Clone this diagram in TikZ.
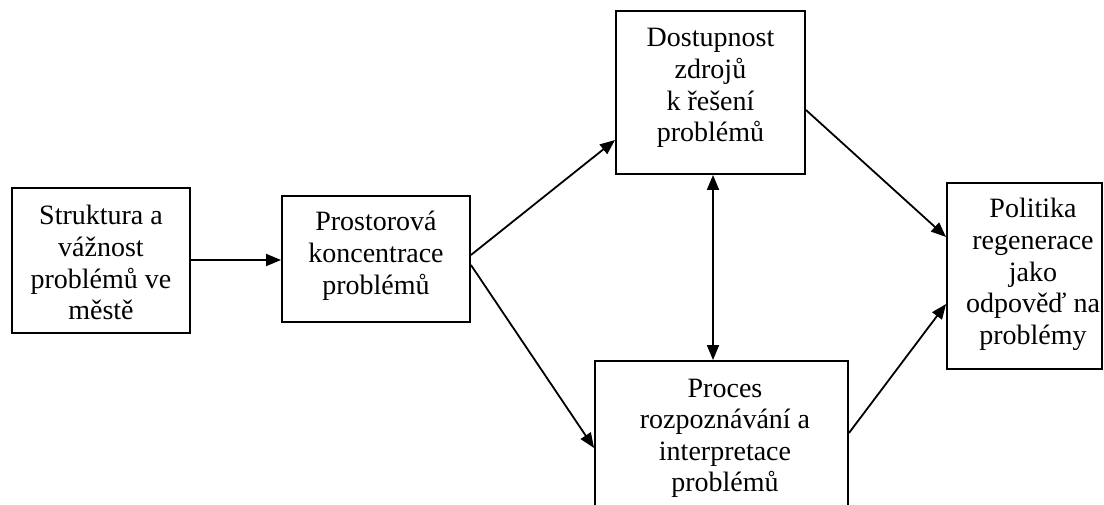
\documentclass[tikz,border=0pt]{standalone}
\usepackage{fontspec}
\setmainfont{Liberation Serif}
\usetikzlibrary{arrows.meta}
\begin{document}
\begin{tikzpicture}[x=1pt,y=-1pt,
  box/.style={draw, line width=1.9pt, rectangle, inner sep=0pt},
  lbl/.style={inner sep=0pt, anchor=base, font=\fontsize{28}{31.6}\selectfont},
  conn/.style={line width=1.8pt, -{Triangle[length=15pt,width=12pt]}},
  conn2/.style={line width=1.8pt, {Triangle[length=15pt,width=12pt]}-{Triangle[length=15pt,width=12pt]}}]
\clip (0,0) rectangle (1104,505);
\useasboundingbox (0,0) rectangle (1104,505);
\fill[white] (0,0) rectangle (1104,505);
% boxes
\node[box, minimum width=178pt, minimum height=145pt] (b1) at (101,260.5) {};
\node[box, minimum width=188pt, minimum height=126pt] (b2) at (376,259) {};
\node[box, minimum width=189pt, minimum height=163pt] (b3) at (710.5,92.5) {};
\node[box, minimum width=253pt, minimum height=170pt] (b4) at (721.5,446) {};
\node[box, minimum width=155pt, minimum height=186pt] (b5) at (1024.5,276) {};
% texts
\node[lbl] (t1) at (101,225) {\parbox[t]{170pt}{\centering Struktura a\\ vážnost\\ problémů ve\\ městě}};
\node[lbl] (t2) at (376,231) {\parbox[t]{180pt}{\centering Prostorová\\ koncentrace\\ problémů}};
\node[lbl] (t3) at (710.5,47) {\parbox[t]{180pt}{\centering Dostupnost\\ zdrojů\\ k řešení\\ problémů}};
\node[lbl] (t4) at (725,397) {\parbox[t]{240pt}{\centering Proces\\ rozpoznávání a\\ interpretace\\ problémů}};
\node[lbl] (t5) at (1033,218) {\parbox[t]{160pt}{\centering Politika\\ regenerace\\ jako\\ odpověď na\\ problémy}};
% connectors
\draw[conn] (b1.east |- 0,260) -- (b2.west |- 0,260);
\draw[conn] (b2.east |- 0,255) -- (b3.west |- 0,140);
\draw[conn] (b2.east |- 0,265) -- (b4.west |- 0,448);
\draw[conn2] (b3.south -| 713,0) -- (b4.north -| 713,0);
\draw[conn] (b3.east |- 0,110) -- (b5.west |- 0,237);
\draw[conn] (b4.east |- 0,433) -- (b5.west |- 0,304);
\end{tikzpicture}
\end{document}
